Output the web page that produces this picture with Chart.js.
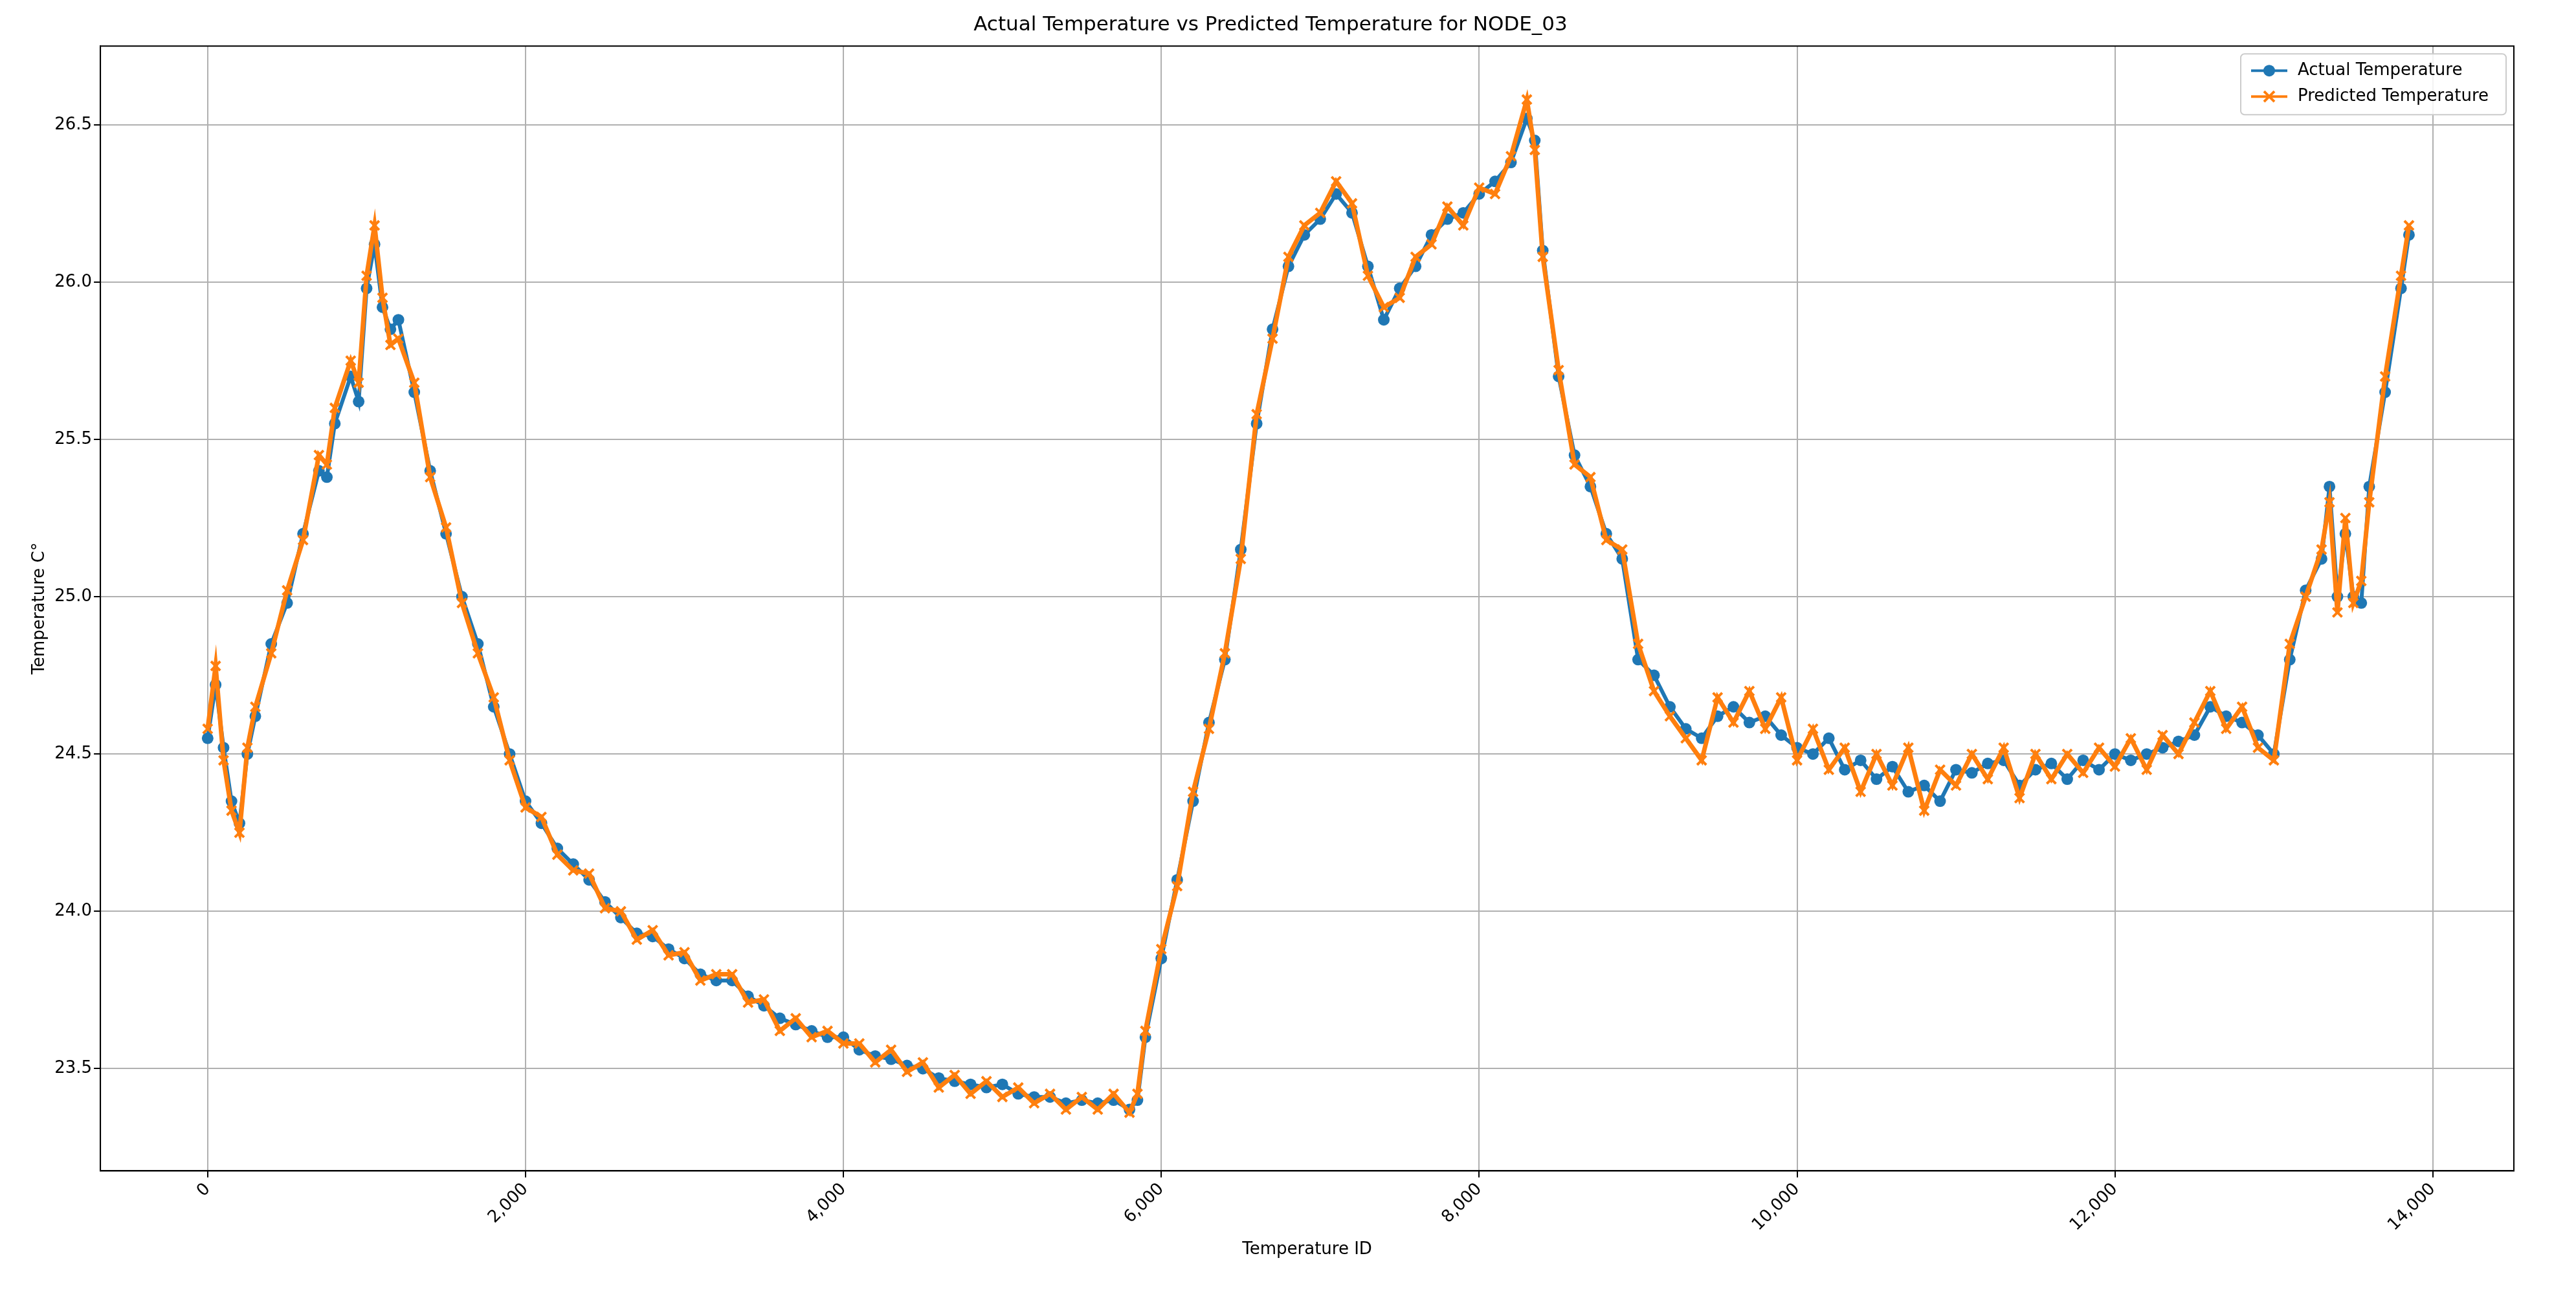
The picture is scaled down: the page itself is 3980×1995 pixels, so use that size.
<!DOCTYPE html>
<html>
<head>
<meta charset="utf-8">
<script src="https://cdn.jsdelivr.net/npm/chart.js@4.4.1/dist/chart.umd.min.js"></script>
<style>
  html, body { margin: 0; padding: 0; background: #fff; }
  #wrap { width: 3980px; height: 1995px; }
</style>
</head>
<body>
<div id="wrap"><canvas id="tempChart" width="3980" height="1995"></canvas></div>
<script>
const ids = [0, 50, 100, 150, 200, 250, 300, 400, 500, 600, 700, 750, 800, 900, 950, 1000, 1050, 1100, 1150, 1200, 1300, 1400, 1500, 1600, 1700, 1800, 1900, 2000,
    2100, 2200, 2300, 2400, 2500, 2600, 2700, 2800, 2900, 3000, 3100, 3200, 3300, 3400, 3500, 3600, 3700, 3800, 3900, 4000,
    4100, 4200, 4300, 4400, 4500, 4600, 4700, 4800, 4900, 5000, 5100, 5200, 5300, 5400, 5500, 5600, 5700, 5800, 5850, 5900,
    6000, 6100, 6200, 6300, 6400, 6500, 6600, 6700, 6800, 6900, 7000, 7100, 7200, 7300, 7400, 7500, 7600, 7700, 7800, 7900,
    8000, 8100, 8200, 8300, 8350, 8400, 8500, 8600, 8700, 8800, 8900, 9000, 9100, 9200, 9300, 9400, 9500, 9600, 9700, 9800,
    9900, 10000, 10100, 10200, 10300, 10400, 10500, 10600, 10700, 10800, 10900, 11000, 11100, 11200, 11300, 11400, 11500,
    11600, 11700, 11800, 11900, 12000, 12100, 12200, 12300, 12400, 12500, 12600, 12700, 12800, 12900, 13000, 13100, 13200,
    13300, 13350, 13400, 13450, 13500, 13550, 13600, 13700, 13800, 13850];

const actual = [24.55, 24.72, 24.52, 24.35, 24.28, 24.5, 24.62, 24.85, 24.98, 25.2, 25.4, 25.38, 25.55, 25.7, 25.62, 25.98, 26.12, 25.92, 25.85, 25.88, 25.65, 25.4, 25.2, 25.0, 24.85, 24.65, 24.5, 24.35,
    24.28, 24.2, 24.15, 24.1, 24.03, 23.98, 23.93, 23.92, 23.88, 23.85, 23.8, 23.78, 23.78, 23.73, 23.7, 23.66, 23.64, 23.62, 23.6, 23.6,
    23.56, 23.54, 23.53, 23.51, 23.5, 23.47, 23.46, 23.45, 23.44, 23.45, 23.42, 23.41, 23.41, 23.39, 23.4, 23.39, 23.4, 23.37, 23.4, 23.6,
    23.85, 24.1, 24.35, 24.6, 24.8, 25.15, 25.55, 25.85, 26.05, 26.15, 26.2, 26.28, 26.22, 26.05, 25.88, 25.98, 26.05, 26.15, 26.2, 26.22,
    26.28, 26.32, 26.38, 26.52, 26.45, 26.1, 25.7, 25.45, 25.35, 25.2, 25.12, 24.8, 24.75, 24.65, 24.58, 24.55, 24.62, 24.65, 24.6, 24.62,
    24.56, 24.52, 24.5, 24.55, 24.45, 24.48, 24.42, 24.46, 24.38, 24.4, 24.35, 24.45, 24.44, 24.47, 24.48, 24.4, 24.45,
    24.47, 24.42, 24.48, 24.45, 24.5, 24.48, 24.5, 24.52, 24.54, 24.56, 24.65, 24.62, 24.6, 24.56, 24.5, 24.8, 25.02,
    25.12, 25.35, 25.0, 25.2, 25.0, 24.98, 25.35, 25.65, 25.98, 26.15];

const predicted = [24.58, 24.78, 24.48, 24.32, 24.25, 24.52, 24.65, 24.82, 25.02, 25.18, 25.45, 25.42, 25.6, 25.75, 25.68, 26.02, 26.18, 25.95, 25.8, 25.82, 25.68, 25.38, 25.22, 24.98, 24.82, 24.68, 24.48, 24.33,
    24.3, 24.18, 24.13, 24.12, 24.01, 24.0, 23.91, 23.94, 23.86, 23.87, 23.78, 23.8, 23.8, 23.71, 23.72, 23.62, 23.66, 23.6, 23.62, 23.58,
    23.58, 23.52, 23.56, 23.49, 23.52, 23.44, 23.48, 23.42, 23.46, 23.41, 23.44, 23.39, 23.42, 23.37, 23.41, 23.37, 23.42, 23.36, 23.42, 23.62,
    23.88, 24.08, 24.38, 24.58, 24.82, 25.12, 25.58, 25.82, 26.08, 26.18, 26.22, 26.32, 26.25, 26.02, 25.92, 25.95, 26.08, 26.12, 26.24, 26.18,
    26.3, 26.28, 26.4, 26.58, 26.42, 26.08, 25.72, 25.42, 25.38, 25.18, 25.15, 24.85, 24.7, 24.62, 24.55, 24.48, 24.68, 24.6, 24.7, 24.58,
    24.68, 24.48, 24.58, 24.45, 24.52, 24.38, 24.5, 24.4, 24.52, 24.32, 24.45, 24.4, 24.5, 24.42, 24.52, 24.36, 24.5,
    24.42, 24.5, 24.44, 24.52, 24.46, 24.55, 24.45, 24.56, 24.5, 24.6, 24.7, 24.58, 24.65, 24.52, 24.48, 24.85, 25.0,
    25.15, 25.3, 24.95, 25.25, 24.98, 25.05, 25.3, 25.7, 26.02, 26.18];

const xTicks = [0, 2000, 4000, 6000, 8000, 10000, 12000, 14000];
const yTicks = [23.5, 24.0, 24.5, 25.0, 25.5, 26.0, 26.5];

const toPts = (vals) => vals.map((v, i) => ({ x: ids[i], y: v }));

// full frame around the plot plus a matplotlib-style legend box in the top right corner
const frameAndLegend = {
    id: "frameAndLegend",
    afterDatasetsDraw(chart) {
        const { ctx, chartArea: a } = chart;
        ctx.save();
        ctx.strokeStyle = "#000";
        ctx.lineWidth = 2;
        ctx.strokeRect(a.left, a.top, a.right - a.left, a.bottom - a.top);

        const w = 410, h = 94, x = a.right - w - 12, y = a.top + 12;
        ctx.fillStyle = "rgba(255,255,255,0.85)";
        ctx.strokeStyle = "#ccc";
        ctx.lineWidth = 2;
        ctx.beginPath();
        ctx.roundRect(x, y, w, h, 6);
        ctx.fill();
        ctx.stroke();

        ctx.font = "26px 'DejaVu Sans'";
        ctx.textBaseline = "middle";
        chart.data.datasets.forEach((ds, i) => {
            const cy = y + 26 + i * 40;
            ctx.strokeStyle = ds.borderColor;
            ctx.lineWidth = 4;
            ctx.beginPath();
            ctx.moveTo(x + 16, cy);
            ctx.lineTo(x + 72, cy);
            ctx.stroke();
            if (i === 0) {
                ctx.fillStyle = ds.borderColor;
                ctx.beginPath();
                ctx.arc(x + 44, cy, 9, 0, Math.PI * 2);
                ctx.fill();
            } else {
                ctx.beginPath();
                ctx.moveTo(x + 36, cy - 8); ctx.lineTo(x + 52, cy + 8);
                ctx.moveTo(x + 52, cy - 8); ctx.lineTo(x + 36, cy + 8);
                ctx.stroke();
            }
            ctx.fillStyle = "#000";
            ctx.fillText(ds.label, x + 88, cy);
        });
        ctx.restore();
    },
};

new Chart(document.getElementById("tempChart"), {
    type: "line",
    data: {
        datasets: [
            {
                label: "Actual Temperature",
                data: toPts(actual),
                borderColor: "#1f77b4",
                backgroundColor: "#1f77b4",
                borderWidth: 6,
                pointStyle: "circle",
                pointRadius: 9,
                pointBorderWidth: 0,
                order: 1,
            },
            {
                label: "Predicted Temperature",
                data: toPts(predicted),
                borderColor: "#ff7f0e",
                backgroundColor: "#ff7f0e",
                borderWidth: 7,
                pointStyle: "crossRot",
                pointRadius: 10,
                pointBorderWidth: 4,
                order: 0,
            },
        ],
    },
    plugins: [frameAndLegend],
    options: {
        responsive: false,
        animation: false,
        layout: { padding: { left: 42, right: 96, top: 4, bottom: 44 } },
        plugins: {
            title: {
                display: true,
                text: "Actual Temperature vs Predicted Temperature for NODE_03",
                color: "#000",
                font: { family: "DejaVu Sans", size: 31, weight: "normal" },
                padding: { top: 16, bottom: 14 },
            },
            legend: { display: false },
            tooltip: { enabled: false },
        },
        scales: {
            x: {
                type: "linear",
                min: -675,
                max: 14510,
                afterBuildTicks: (axis) => { axis.ticks = xTicks.map((v) => ({ value: v })); },
                ticks: {
                    color: "#000",
                    font: { family: "DejaVu Sans", size: 26 },
                    maxRotation: 45,
                    minRotation: 45,
                    callback: (v) => v.toLocaleString("en-US"),
                },
                grid: { color: "#b0b0b0", lineWidth: 2, tickLength: 10, tickColor: "#000" },
                border: { color: "#000", width: 2 },
                title: { display: true, text: "Temperature ID", color: "#000", font: { family: "DejaVu Sans", size: 26 } },
            },
            y: {
                min: 23.175,
                max: 26.75,
                afterBuildTicks: (axis) => { axis.ticks = yTicks.map((v) => ({ value: v })); },
                ticks: {
                    color: "#000",
                    font: { family: "DejaVu Sans", size: 26 },
                    callback: (v) => v.toFixed(1),
                },
                grid: { color: "#b0b0b0", lineWidth: 2, tickLength: 10, tickColor: "#000" },
                border: { color: "#000", width: 2 },
                title: { display: true, text: "Temperature C°", color: "#000", font: { family: "DejaVu Sans", size: 26 } },
            },
        },
    },
});
</script>
</body>
</html>
